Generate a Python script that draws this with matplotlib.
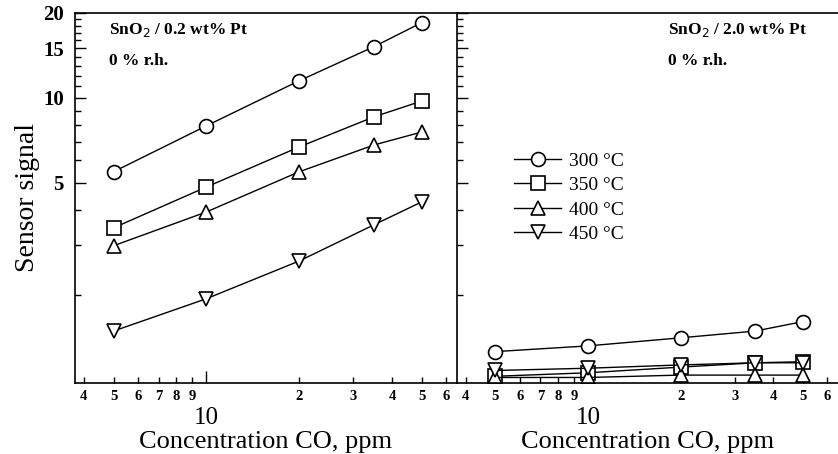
import matplotlib.pyplot as plt
from matplotlib.ticker import FixedLocator, FixedFormatter, NullFormatter

plt.rcParams['font.family'] = ['Liberation Serif', 'DejaVu Serif']

conc = [5, 10, 20, 35, 50]
temps = ["300 °C", "350 °C", "400 °C", "450 °C"]
markers = ["o", "s", "^", "v"]

# SnO2 / 0.2 wt% Pt
pt02 = [
    [5.47, 7.96, 11.5, 15.2, 18.5],
    [3.46, 4.83, 6.70, 8.57, 9.75],
    [2.99, 3.94, 5.47, 6.81, 7.57],
    [1.49, 1.94, 2.64, 3.55, 4.28],
]
# SnO2 / 2.0 wt% Pt
pt20 = [
    [1.26, 1.32, 1.41, 1.49, 1.61],
    [1.03, 1.06, 1.11, 1.15, 1.16],
    [1.02, 1.02, 1.04, 1.04, 1.04],
    [1.08, 1.10, 1.13, 1.15, 1.15],
]

x_minor = [4, 5, 6, 7, 8, 9, 20, 30, 40, 50, 60]
x_minor_labels = ["4", "5", "6", "7", "8", "9", "2", "3", "4", "5", "6"]
y_major = [5, 10, 15, 20]
y_minor = [2, 3, 4, 6, 7, 8, 9, 11, 12, 13, 14, 16, 17, 18, 19]

fig = plt.figure(figsize=(8.38, 4.54), dpi=100)
ax1 = fig.add_axes([75 / 838, 1 - 383 / 454, 382 / 838, 370 / 454])
ax2 = fig.add_axes([457 / 838, 1 - 383 / 454, 381 / 838, 370 / 454], sharey=ax1)

for ax, data in [(ax1, pt02), (ax2, pt20)]:
    for vals, m, lab in zip(data, markers, temps):
        ax.plot(conc, vals, color="black", lw=1.0, marker=m, markersize=10,
                markerfacecolor="white", markeredgecolor="black",
                markeredgewidth=1.2, label=lab)
    ax.set_xscale("log")
    ax.set_yscale("log")
    ax.set_xlim(3.75, 65)
    ax.xaxis.set_major_locator(FixedLocator([10]))
    ax.xaxis.set_major_formatter(FixedFormatter(["10"]))
    ax.xaxis.set_minor_locator(FixedLocator(x_minor))
    ax.xaxis.set_minor_formatter(FixedFormatter(x_minor_labels))
    ax.tick_params(axis="x", which="major", direction="in", length=9,
                   width=1, labelsize=18, pad=17)
    ax.tick_params(axis="x", which="minor", direction="in", length=4,
                   width=1, labelsize=10.5, pad=5)
    for t in ax.xaxis.get_minorticklabels():
        t.set_fontweight("bold")
    ax.set_xlabel("Concentration CO, ppm", fontsize=19, labelpad=2)
    ax.spines["right"].set_visible(False)
    for s in ["left", "bottom", "top"]:
        ax.spines[s].set_linewidth(1.2)

ax1.set_ylim(0.975, 20)
ax1.yaxis.set_major_locator(FixedLocator(y_major))
ax1.yaxis.set_major_formatter(FixedFormatter([str(v) for v in y_major]))
ax1.yaxis.set_minor_locator(FixedLocator(y_minor))
ax1.yaxis.set_minor_formatter(NullFormatter())
for ax in (ax1, ax2):
    ax.tick_params(axis="y", which="major", direction="in", length=8, width=1,
                   labelsize=15, pad=8)
    ax.tick_params(axis="y", which="minor", direction="in", length=4, width=1)
for t in ax1.yaxis.get_majorticklabels():
    t.set_fontweight("bold")
ax2.tick_params(axis="y", which="both", labelleft=False)
ax1.set_ylabel("Sensor signal", fontsize=20, labelpad=2)

ax1.text(0.09, 0.955, "SnO$_2$ / 0.2 wt% Pt", transform=ax1.transAxes,
         fontsize=12.5, fontweight="bold", va="center")
ax1.text(0.09, 0.87, "0 % r.h.", transform=ax1.transAxes,
         fontsize=12.5, fontweight="bold", va="center")
ax2.text(0.555, 0.955, "SnO$_2$ / 2.0 wt% Pt", transform=ax2.transAxes,
         fontsize=12.5, fontweight="bold", va="center")
ax2.text(0.555, 0.87, "0 % r.h.", transform=ax2.transAxes,
         fontsize=12.5, fontweight="bold", va="center")

ax2.legend(loc="upper left", bbox_to_anchor=(0.125, 0.65), frameon=False,
           fontsize=14, handlelength=2.4, handletextpad=0.4,
           labelspacing=0.35, borderpad=0)

fig.savefig("out.png", dpi=100)
